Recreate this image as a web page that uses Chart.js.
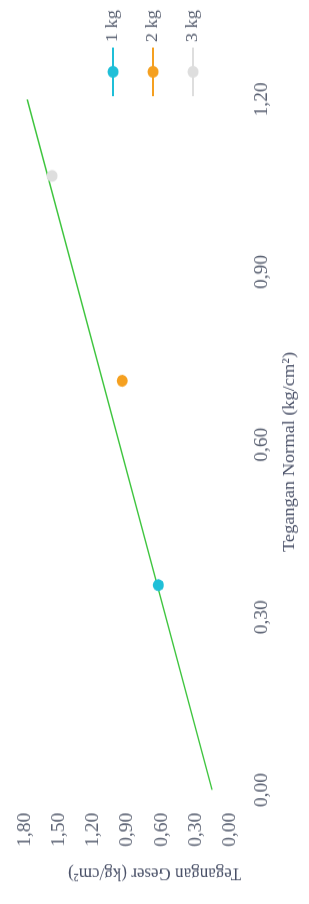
<!DOCTYPE html>
<html>
<head>
<meta charset="utf-8">
<script src="https://cdn.jsdelivr.net/npm/chart.js@4.4.1/dist/chart.umd.min.js"></script>
<style>
  html, body { margin: 0; padding: 0; background: #fff; overflow: hidden; }
  body { width: 309px; height: 904px; position: relative; }
  /* chart is drawn landscape, then turned (and a little stretched) like the picture */
  #wrap {
    position: absolute; left: 0; top: 904px;
    width: 837px; height: 309px;
    transform-origin: 0 0;
    transform: rotate(-90deg) scaleX(1.08);
  }
</style>
</head>
<body>
<div id="wrap"><canvas id="chart" width="837" height="309"></canvas></div>
<script>
const loadLabels = ['1 kg', '2 kg', '3 kg'];
const normalStress = [0.356, 0.711, 1.067];
const shearStress = [0.632, 0.948, 1.563];
const pointColors = ['#1fbfd8', '#f5a020', '#dedede'];
const trendX = [0, 1.2];
const trendY = [0.16, 1.78];
const xTicks = [0, 0.3, 0.6, 0.9, 1.2];
const yTicks = [0, 0.3, 0.6, 0.9, 1.2, 1.5, 1.8];
const xTitle = 'Tegangan Normal (kg/cm²)';
const yTitle = 'Tegangan Geser (kg/cm²)';

const fmt = (v) => v.toFixed(2).replace('.', ',');
const serif = "'Liberation Serif', 'Times New Roman', serif";

Chart.defaults.font.family = serif;

// axis titles centred on the whole canvas, legend as line + dot beside the plot
const extras = {
  id: 'extras',
  afterDraw(chart) {
    const { ctx, chartArea } = chart;
    ctx.save();
    ctx.textBaseline = 'middle';

    ctx.font = '17px ' + serif;
    ctx.fillStyle = '#4a5168';
    ctx.textAlign = 'center';
    ctx.fillText(xTitle, chart.width / 2, chart.height - 19);
    ctx.save();
    ctx.translate(29, chart.height / 2);
    ctx.rotate(-Math.PI / 2);
    ctx.fillText(yTitle, 0, 0);
    ctx.restore();

    const x0 = chartArea.right + 3;
    const mid = chart.height / 2 - 1.5;
    ctx.font = '17px ' + serif;
    ctx.textAlign = 'left';
    loadLabels.forEach((label, i) => {
      const y = mid + (i - 1) * 40;
      ctx.strokeStyle = pointColors[i];
      ctx.lineWidth = 2;
      ctx.beginPath();
      ctx.moveTo(x0, y);
      ctx.lineTo(x0 + 45, y);
      ctx.stroke();
      ctx.fillStyle = pointColors[i];
      ctx.beginPath();
      ctx.arc(x0 + 22.5, y, 5.5, 0, Math.PI * 2);
      ctx.fill();
      ctx.fillStyle = '#5a6172';
      ctx.fillText(label, x0 + 50, y);
    });
    ctx.restore();
  }
};

const pointSets = loadLabels.map((label, i) => ({
  label: label,
  data: [{ x: normalStress[i], y: shearStress[i] }],
  backgroundColor: pointColors[i],
  borderColor: pointColors[i],
  pointRadius: 5.5,
  pointBorderWidth: 0
}));

new Chart(document.getElementById('chart'), {
  type: 'scatter',
  data: {
    datasets: [
      ...pointSets,
      {
        label: 'trend',
        data: trendX.map((x, i) => ({ x: x, y: trendY[i] })),
        showLine: true,
        borderColor: '#3cc43c',
        borderWidth: 1.5,
        pointRadius: 0
      }
    ]
  },
  options: {
    responsive: false,
    animation: false,
    devicePixelRatio: 1,
    layout: { padding: { top: 25, right: 92, bottom: 33, left: 50 } },
    plugins: { legend: { display: false }, tooltip: { enabled: false } },
    scales: {
      x: {
        type: 'linear',
        min: 0,
        max: 1.2,
        grid: { display: false, drawTicks: true, tickLength: 18 },
        border: { display: false },
        afterBuildTicks: (s) => { s.ticks = xTicks.map((value) => ({ value })); },
        ticks: { padding: 3, font: { size: 18 }, color: '#5a6172', callback: fmt }
      },
      y: {
        type: 'linear',
        min: 0,
        max: 1.8,
        grid: { display: false, drawTicks: true, tickLength: 18 },
        border: { display: false },
        afterBuildTicks: (s) => { s.ticks = yTicks.map((value) => ({ value })); },
        ticks: { padding: 3, font: { size: 18 }, color: '#5a6172', callback: fmt }
      }
    }
  },
  plugins: [extras]
});
</script>
</body>
</html>
